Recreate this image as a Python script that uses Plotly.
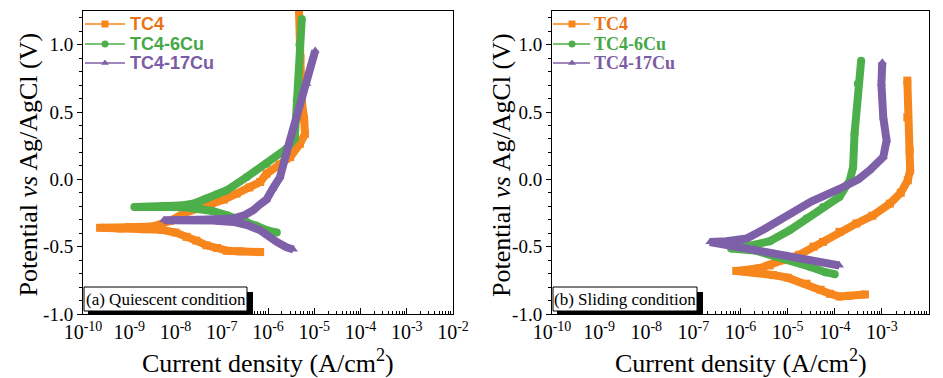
import plotly.graph_objects as go

# ---------------- data (current density A/cm2, potential V vs Ag/AgCl) ----------------
# (a) Quiescent condition
q_tc4_i = [6.76e-7, 2.51e-7, 1.29e-7, 7.94e-8, 4.68e-8, 2.82e-8, 1.74e-8, 1.0e-8, 5.01e-9, 2.0e-9,
           6.31e-10, 2.34e-10, 1.0e-9, 3.16e-9, 7.59e-9, 1.48e-8, 3.16e-8, 5.62e-8, 1.12e-7, 2.09e-7,
           3.98e-7, 6.76e-7, 9.33e-7, 1.78e-6, 3.02e-6, 4.9e-6, 6.31e-6, 6.03e-6, 5.37e-6, 5.01e-6, 4.68e-6]
q_tc4_e = [-0.54, -0.535, -0.53, -0.51, -0.49, -0.455, -0.427, -0.395, -0.375, -0.37,
           -0.365, -0.36, -0.355, -0.35, -0.31, -0.254, -0.22, -0.193, -0.15, -0.106,
           -0.06, -0.02, 0.042, 0.11, 0.165, 0.264, 0.338, 0.45, 0.585, 0.9, 1.25]

q_6cu_i = [1.55e-6, 9.33e-7, 5.62e-7, 3.47e-7, 2.0e-7, 1.29e-7, 6.31e-8, 3.39e-8, 1.58e-8, 6.31e-9,
           2.69e-9, 1.29e-9, 5.01e-9, 1.26e-8, 2.51e-8, 4.68e-8, 7.94e-8, 1.29e-7, 3.47e-7, 9.33e-7,
           2.51e-6, 3.8e-6, 4.17e-6, 4.79e-6, 5.37e-6]
q_6cu_e = [-0.395, -0.378, -0.345, -0.316, -0.285, -0.267, -0.235, -0.217, -0.207, -0.205,
           -0.205, -0.205, -0.2, -0.195, -0.18, -0.143, -0.11, -0.081, 0.017, 0.116,
           0.227, 0.301, 0.585, 1.0, 1.19]

q_17cu_i = [3.55e-6, 2.51e-6, 1.55e-6, 1.0e-6, 6.76e-7, 3.55e-7, 1.78e-7, 6.31e-8, 2.0e-8, 5.5e-9,
            3.16e-8, 1.0e-7, 1.78e-7, 3.16e-7, 4.79e-7, 7.08e-7, 9.33e-7, 1.26e-6, 1.82e-6, 2.51e-6,
            4.17e-6, 6.92e-6, 1.05e-5]
q_17cu_e = [-0.521, -0.505, -0.465, -0.42, -0.378, -0.34, -0.316, -0.305, -0.3, -0.304,
            -0.3, -0.295, -0.291, -0.265, -0.23, -0.18, -0.15, -0.07, 0.017, 0.2,
            0.461, 0.709, 0.956]

# (b) Sliding condition
s_tc4_i = [4.37e-4, 2.0e-4, 1.26e-4, 7.94e-5, 5.01e-5, 2.51e-5, 1.0e-5, 4.9e-6, 2.0e-6, 8.13e-7,
           2.51e-6, 4.17e-6, 7.94e-6, 1.78e-5, 3.55e-5, 5.62e-5, 1.26e-4, 2.88e-4, 6.31e-4, 1.48e-3,
           2.51e-3, 3.55e-3, 3.98e-3, 3.89e-3, 3.47e-3, 3.47e-3]
s_tc4_e = [-0.855, -0.865, -0.87, -0.85, -0.82, -0.775, -0.73, -0.711, -0.69, -0.68,
           -0.66, -0.64, -0.6, -0.56, -0.5, -0.465, -0.39, -0.328, -0.27, -0.18,
           -0.1, -0.007, 0.067, 0.215, 0.461, 0.733]

s_6cu_i = [1.0e-4, 6.31e-5, 2.95e-5, 1.1e-5, 3.98e-6, 2.19e-6, 1.0e-6, 6.31e-7,
           1.26e-6, 2.51e-6, 4.17e-6, 1.1e-5, 2.51e-5, 5.62e-5, 1.26e-4, 2.09e-4, 2.45e-4,
           2.63e-4, 3.09e-4, 3.63e-4]
s_6cu_e = [-0.704, -0.69, -0.649, -0.6, -0.55, -0.531, -0.52, -0.513,
           -0.5, -0.48, -0.46, -0.378, -0.29, -0.205, -0.13, -0.007, 0.091,
           0.338, 0.709, 0.881]

s_17cu_i = [1.26e-4, 5.01e-5, 2.14e-5, 1.0e-5, 4.47e-6, 2.0e-6, 8.13e-7, 3.98e-7, 2.24e-7,
            5.01e-7, 1.35e-6, 3.16e-6, 1.1e-5, 3.16e-5, 1.29e-4, 3.16e-4, 5.5e-4, 1.07e-3,
            1.26e-3, 1.07e-3, 9.77e-4, 1.02e-3]
s_17cu_e = [-0.64, -0.615, -0.59, -0.565, -0.55, -0.515, -0.49, -0.475, -0.465,
            -0.46, -0.44, -0.37, -0.26, -0.165, -0.07, 0.0, 0.067, 0.165,
            0.289, 0.461, 0.709, 0.869]

series_names = ["TC4", "TC4-6Cu", "TC4-17Cu"]
colors = ["#F7861C", "#4DAF4A", "#7E60A8"]
text_colors = ["#E8731A", "#45A845", "#7A5BA6"]
symbols = ["square", "circle", "triangle-up"]

x_tickvals = [1e-10, 1e-9, 1e-8, 1e-7, 1e-6, 1e-5, 1e-4, 1e-3, 1e-2]
x_ticktext = ["10<sup>-10</sup>", "10<sup>-9</sup>", "10<sup>-8</sup>", "10<sup>-7</sup>",
              "10<sup>-6</sup>", "10<sup>-5</sup>", "10<sup>-4</sup>", "10<sup>-3</sup>",
              "10<sup>-2</sup>"]
y_tickvals = [-1.0, -0.5, 0.0, 0.5, 1.0]
y_ticktext = ["-1.0", "-0.5", "0.0", "0.5", "1.0"]

panel_labels = ["(a) Quiescent condition", "(b) Sliding condition"]

# ---------------- geometry ----------------
# The page body adds an 8 px margin, so the figure is laid out in page pixels minus 8.
OFF = 8
W, H = 943 - OFF, 378 - OFF


def px(x):
    return (x - OFF) / W


def py(y):
    return (H - (y - OFF)) / H


left_px = [(83, 453), (552, 929)]
top_px, bot_px = 11, 314

fig = go.Figure()

panels = [
    [(q_tc4_i, q_tc4_e), (q_6cu_i, q_6cu_e), (q_17cu_i, q_17cu_e)],
    [(s_tc4_i, s_tc4_e), (s_6cu_i, s_6cu_e), (s_17cu_i, s_17cu_e)],
]

for p, data in enumerate(panels):
    xa = "x" if p == 0 else "x2"
    ya = "y" if p == 0 else "y2"
    for k, (xi, ye) in enumerate(data):
        fig.add_trace(go.Scatter(
            x=xi, y=ye, xaxis=xa, yaxis=ya, mode="lines+markers",
            line=dict(color=colors[k], width=8),
            marker=dict(color=colors[k], symbol=symbols[k], size=8),
            showlegend=False, hoverinfo="skip"))

# legend samples drawn on a hidden pixel-space overlay axis
legend_rows = [24, 44, 63]
legend_cfg = [  # line start, line end, marker x, text x, font family
    (85, 125, 105, 128, "Liberation Sans"),
    (553, 590, 572, 592, "Liberation Serif"),
]
annotations = []
for p in range(2):
    ls, le, mx, tx, fam = legend_cfg[p]
    for k in range(3):
        yrow = legend_rows[k] - OFF
        fig.add_trace(go.Scatter(
            x=[ls - OFF, le - OFF], y=[yrow, yrow], xaxis="x3", yaxis="y3", mode="lines",
            line=dict(color=colors[k], width=1.5), showlegend=False, hoverinfo="skip"))
        fig.add_trace(go.Scatter(
            x=[mx - OFF], y=[yrow], xaxis="x3", yaxis="y3", mode="markers",
            marker=dict(color=colors[k], symbol=symbols[k], size=7),
            showlegend=False, hoverinfo="skip"))
        annotations.append(dict(
            text="<b>%s</b>" % series_names[k], xref="x3", yref="y3",
            x=tx - OFF, y=yrow, xanchor="left", yanchor="middle", showarrow=False,
            font=dict(family=fam, size=18, color=text_colors[k])))

minor_x = [m * 10.0 ** e for e in range(-10, -2) for m in range(2, 10)]


def xaxis_cfg(p):
    return dict(
        type="log", range=[-10, -2], domain=[px(left_px[p][0]), px(left_px[p][1])],
        tickmode="array", tickvals=x_tickvals, ticktext=x_ticktext,
        ticks="inside", ticklen=6, tickwidth=1, tickcolor="black",
        minor=dict(tickmode="array", tickvals=minor_x, ticks="inside", ticklen=3,
                   tickcolor="black", showgrid=False),
        showline=True, linecolor="black", linewidth=1, mirror=True,
        showgrid=False, zeroline=False, automargin=False,
        tickfont=dict(family="Liberation Serif", size=20, color="black"),
        anchor="y" if p == 0 else "y2")


def yaxis_cfg(p):
    return dict(
        range=[-1.0, 1.25], domain=[py(bot_px), py(top_px)],
        tickmode="array", tickvals=y_tickvals, ticktext=y_ticktext,
        ticks="outside", ticklen=5, tickwidth=1, tickcolor="black",
        minor=dict(dtick=0.1, ticks="outside", ticklen=3, tickcolor="black", showgrid=False),
        showline=True, linecolor="black", linewidth=1, mirror=True,
        showgrid=False, zeroline=False, automargin=False,
        tickfont=dict(family="Liberation Serif", size=19, color="black"),
        anchor="x" if p == 0 else "x2")


shapes = []
for p in range(2):
    x0, x1 = left_px[p]
    box_r = [247, 697][p]
    # shadow
    shapes.append(dict(type="rect", xref="paper", yref="paper",
                       x0=px(x0 + 5), x1=px(box_r + 6), y0=py(bot_px), y1=py(292),
                       fillcolor="black", line=dict(width=0), layer="above"))
    # white box
    shapes.append(dict(type="rect", xref="paper", yref="paper",
                       x0=px(x0 + 1), x1=px(box_r), y0=py(311), y1=py(287),
                       fillcolor="white", line=dict(color="black", width=1), layer="above"))
    annotations.append(dict(text=panel_labels[p], xref="paper", yref="paper",
                            x=px((x0 + 1 + box_r) / 2), y=py(299.5),
                            showarrow=False, xanchor="center", yanchor="middle",
                            font=dict(family="Liberation Serif", size=17, color="black")))
    # axis titles
    annotations.append(dict(text="Current density (A/cm<sup>2</sup>)", xref="paper", yref="paper",
                            x=px((x0 + x1) / 2), y=py(361), showarrow=False,
                            xanchor="center", yanchor="middle",
                            font=dict(family="Liberation Serif", size=26, color="black")))
    annotations.append(dict(text="Potential <i>vs</i> Ag/AgCl (V)", xref="paper", yref="paper",
                            x=px([27.5, 501][p]), y=py(165), showarrow=False, textangle=-90,
                            xanchor="center", yanchor="middle",
                            font=dict(family="Liberation Serif", size=26, color="black")))

fig.update_layout(
    width=W, height=H, margin=dict(l=0, r=0, t=0, b=0, autoexpand=False),
    paper_bgcolor="white", plot_bgcolor="rgba(0,0,0,0)",
    xaxis=xaxis_cfg(0), yaxis=yaxis_cfg(0),
    xaxis2=xaxis_cfg(1), yaxis2=yaxis_cfg(1),
    xaxis3=dict(domain=[0, 1], range=[0, W], visible=False, fixedrange=True, anchor="y3"),
    yaxis3=dict(domain=[0, 1], range=[H, 0], visible=False, fixedrange=True, anchor="x3"),
    shapes=shapes, annotations=annotations, showlegend=False,
)

fig.write_html("out.html")
